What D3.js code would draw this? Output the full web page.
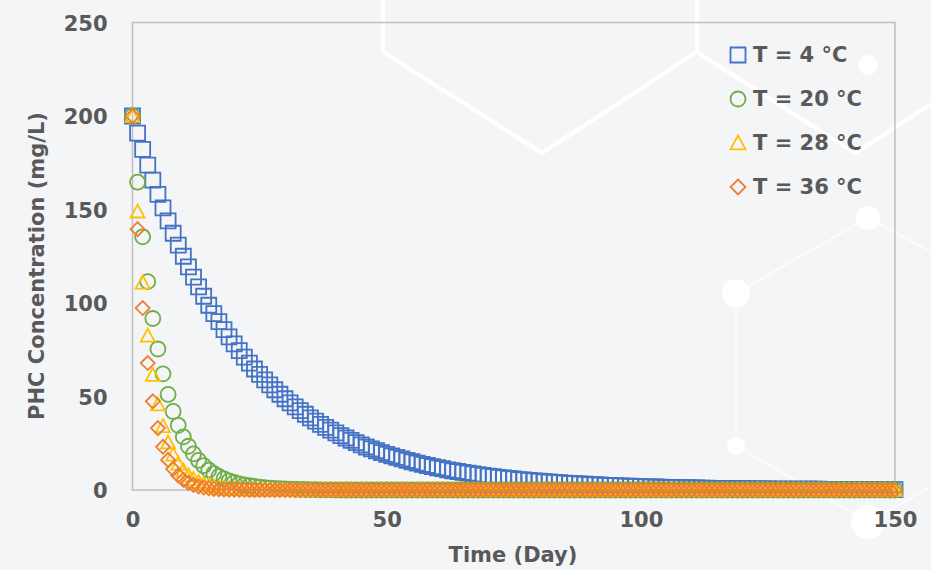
<!DOCTYPE html>
<html>
<head>
<meta charset="utf-8">
<script src="https://cdn.jsdelivr.net/npm/d3@7"></script>
<style>
  body { margin: 0; background: #f4f5f7; }
  svg text { font-family: "DejaVu Sans", sans-serif; font-weight: 700; fill: #595959; }
</style>
</head>
<body>
<svg id="chart"></svg>
<script>
// day index (x categories)
const days = d3.range(0, 151);

// PHC concentration (mg/L), one value per day
const t4 = [200,190.8,182.1,173.7,165.7,158.1,150.9,143.9,137.3,131.0,
  125.0,119.3,113.8,108.6,103.6,98.8,94.3,90.0,85.8,81.9,
  78.1,74.5,71.1,67.9,64.7,61.8,58.9,56.2,53.6,51.2,
  48.8,46.6,44.4,42.4,40.5,38.6,36.8,35.1,33.5,32.0,
  30.5,29.1,27.8,26.5,25.3,24.1,23.0,22.0,21.0,20.0,
  19.1,18.2,17.4,16.6,15.8,15.1,14.4,13.7,13.1,12.5,
  11.9,11.4,10.8,10.3,9.9,9.4,9.0,8.6,8.2,7.8,
  7.4,7.1,6.8,6.5,6.2,5.9,5.6,5.4,5.1,4.9,
  4.7,4.4,4.3,4.1,3.9,3.7,3.5,3.4,3.2,3.1,
  2.9,2.8,2.7,2.5,2.4,2.3,2.2,2.1,2.0,1.9,
  1.8,1.7,1.7,1.6,1.5,1.4,1.4,1.3,1.2,1.2,
  1.1,1.1,1.0,1.0,0.9,0.9,0.9,0.8,0.8,0.7,
  0.7,0.7,0.6,0.6,0.6,0.6,0.5,0.5,0.5,0.5,
  0.4,0.4,0.4,0.4,0.4,0.4,0.3,0.3,0.3,0.3,
  0.3,0.3,0.2,0.2,0.2,0.2,0.2,0.2,0.2,0.2,
  0.2];

const t20 = [200,164.6,135.4,111.4,91.7,75.4,62.1,51.1,42.0,34.6,
  28.4,23.4,19.3,15.8,13.0,10.7,8.8,7.3,6.0,4.9,
  4.0,3.3,2.7,2.3,1.9,1.5,1.3,1.0,0.9,0.7,
  0.6,0.5,0.4,0.3,0.3,0.2,0.2,0.1,0.1,0.1,
  0,0,0,0,0,0,0,0,0,0,0,0,0,0,0,0,0,0,0,0,
  0,0,0,0,0,0,0,0,0,0,0,0,0,0,0,0,0,0,0,0,
  0,0,0,0,0,0,0,0,0,0,0,0,0,0,0,0,0,0,0,0,
  0,0,0,0,0,0,0,0,0,0,0,0,0,0,0,0,0,0,0,0,
  0,0,0,0,0,0,0,0,0,0,0,0,0,0,0,0,0,0,0,0,
  0,0,0,0,0,0,0,0,0,0,0];

const t28 = [200,148.9,110.9,82.5,61.5,45.8,34.1,25.4,18.9,14.1,
  10.5,7.8,5.8,4.3,3.2,2.4,1.8,1.3,1.0,0.7,
  0.5,0.4,0.3,0.2,0.2,0.1,0.1,0.1,
  0,0,0,0,0,0,0,0,0,0,0,0,0,0,0,0,0,0,0,0,
  0,0,0,0,0,0,0,0,0,0,0,0,0,0,0,0,0,0,0,0,
  0,0,0,0,0,0,0,0,0,0,0,0,0,0,0,0,0,0,0,0,
  0,0,0,0,0,0,0,0,0,0,0,0,0,0,0,0,0,0,0,0,
  0,0,0,0,0,0,0,0,0,0,0,0,0,0,0,0,0,0,0,0,
  0,0,0,0,0,0,0,0,0,0,0,0,0,0,0,0,0,0,0,0,
  0,0,0];

const t36 = [200,139.5,97.3,67.9,47.4,33.1,23.1,16.1,11.2,7.8,
  5.5,3.8,2.7,1.9,1.3,0.9,0.6,0.4,0.3,0.2,
  0.2,0.1,0.1,
  0,0,0,0,0,0,0,0,0,0,0,0,0,0,0,0,0,0,0,0,
  0,0,0,0,0,0,0,0,0,0,0,0,0,0,0,0,0,0,0,0,
  0,0,0,0,0,0,0,0,0,0,0,0,0,0,0,0,0,0,0,0,
  0,0,0,0,0,0,0,0,0,0,0,0,0,0,0,0,0,0,0,0,
  0,0,0,0,0,0,0,0,0,0,0,0,0,0,0,0,0,0,0,0,
  0,0,0,0,0,0,0,0,0,0,0,0,0,0,0,0,0,0,0,0,
  0,0,0,0,0,0,0,0];

const seriesNames = ['T = 4 \u00B0C', 'T = 20 \u00B0C', 'T = 28 \u00B0C', 'T = 36 \u00B0C'];
const seriesValues = [t4, t20, t28, t36];
const seriesColors = ['#4472C4', '#70AD47', '#FFC000', '#ED7D31'];
const seriesShapes = ['square', 'circle', 'triangle', 'diamond'];

const xTicks = [0, 50, 100, 150];
const yTicks = [0, 50, 100, 150, 200, 250];

const W = 931, H = 570;
const margin = {top: 22.5, right: 36, bottom: 80, left: 132.5};
const width = W - margin.left - margin.right;
const height = H - margin.top - margin.bottom;
const fontSize = '21px';

const svg = d3.select('#chart').attr('width', W).attr('height', H);

// background with faint decorative hexagons / nodes
svg.append('rect').attr('width', W).attr('height', H).attr('fill', '#f4f5f7');
const deco = svg.append('g').attr('fill', 'none').attr('stroke', '#ffffff');
deco.append('path').attr('stroke-width', 4)
    .attr('d', 'M383,0 L383,52 L542,153 L697,52 L697,0');
deco.append('path').attr('stroke-width', 4)
    .attr('d', 'M697,52 L855,153 L931,104');
deco.append('path').attr('stroke-width', 1.2)
    .attr('d', 'M868,218 L736,293 L736,446 L868,522 L931,487 M868,218 L931,252');
[[868, 65, 10], [868, 218, 12], [736, 293, 14], [736, 446, 9], [868, 522, 17]].forEach(c => {
  svg.append('circle').attr('cx', c[0]).attr('cy', c[1]).attr('r', c[2]).attr('fill', '#ffffff');
});

const chart = svg.append('g').attr('transform', `translate(${margin.left},${margin.top})`);

const xScale = d3.scaleLinear().domain([0, 150]).range([0, width]);
const yScale = d3.scaleLinear().domain([0, 250]).range([height, 0]);

// plot area border
chart.append('rect')
    .attr('width', width).attr('height', height)
    .attr('fill', 'none').attr('stroke', '#bfbfbf').attr('stroke-width', 1.5);

// axes (labels only)
const xAxis = d3.axisBottom(xScale).tickValues(xTicks).tickSize(0).tickPadding(25);
const yAxis = d3.axisLeft(yScale).tickValues(yTicks).tickSize(0).tickPadding(25);

const xAxisG = chart.append('g').attr('transform', `translate(0,${height})`).call(xAxis);
const yAxisG = chart.append('g').call(yAxis);
[xAxisG, yAxisG].forEach(g => {
  g.select('.domain').remove();
  g.selectAll('text').style('font-family', '"DejaVu Sans", sans-serif')
    .style('font-size', fontSize).style('font-weight', 700).attr('fill', '#595959');
});
yAxisG.selectAll('text').attr('dy', '0.36em');
xAxisG.selectAll('text').attr('dy', '0.55em');

// axis titles
svg.append('text')
    .attr('x', 513).attr('y', 562)
    .attr('text-anchor', 'middle')
    .style('font-size', fontSize)
    .text('Time (Day)');

svg.append('text')
    .attr('transform', 'translate(37,266) rotate(-90)')
    .attr('text-anchor', 'middle').attr('dominant-baseline', 'central')
    .style('font-size', fontSize)
    .text('PHC Concentration (mg/L)');

// marker path generator
function markerPath(shape, s) {
  const h = s / 2;
  if (shape === 'square') return `M${-h},${-h}H${h}V${h}H${-h}Z`;
  if (shape === 'circle') return `M${h},0A${h},${h} 0 1,1 ${-h},0A${h},${h} 0 1,1 ${h},0Z`;
  if (shape === 'triangle') return `M0,${-h}L${h},${h * 0.85}L${-h},${h * 0.85}Z`;
  return `M0,${-h}L${h},0L0,${h}L${-h},0Z`;
}
const markerSize = [15, 15, 14, 14];

seriesValues.forEach((vals, i) => {
  chart.append('g')
    .selectAll('path')
    .data(vals)
    .join('path')
      .attr('transform', (d, j) => `translate(${xScale(days[j])},${yScale(d)})`)
      .attr('d', markerPath(seriesShapes[i], markerSize[i]))
      .attr('fill', 'none')
      .attr('stroke', seriesColors[i])
      .attr('stroke-width', 1.8);
});

// legend
const legend = svg.append('g').attr('transform', 'translate(738,55)');
seriesNames.forEach((name, i) => {
  const row = legend.append('g').attr('transform', `translate(0,${i * 44})`);
  row.append('path')
      .attr('d', markerPath(seriesShapes[i], 15))
      .attr('fill', 'none')
      .attr('stroke', seriesColors[i])
      .attr('stroke-width', 1.8);
  row.append('text')
      .attr('x', 15).attr('dominant-baseline', 'central')
      .style('font-size', fontSize)
      .text(name);
});
</script>
</body>
</html>
